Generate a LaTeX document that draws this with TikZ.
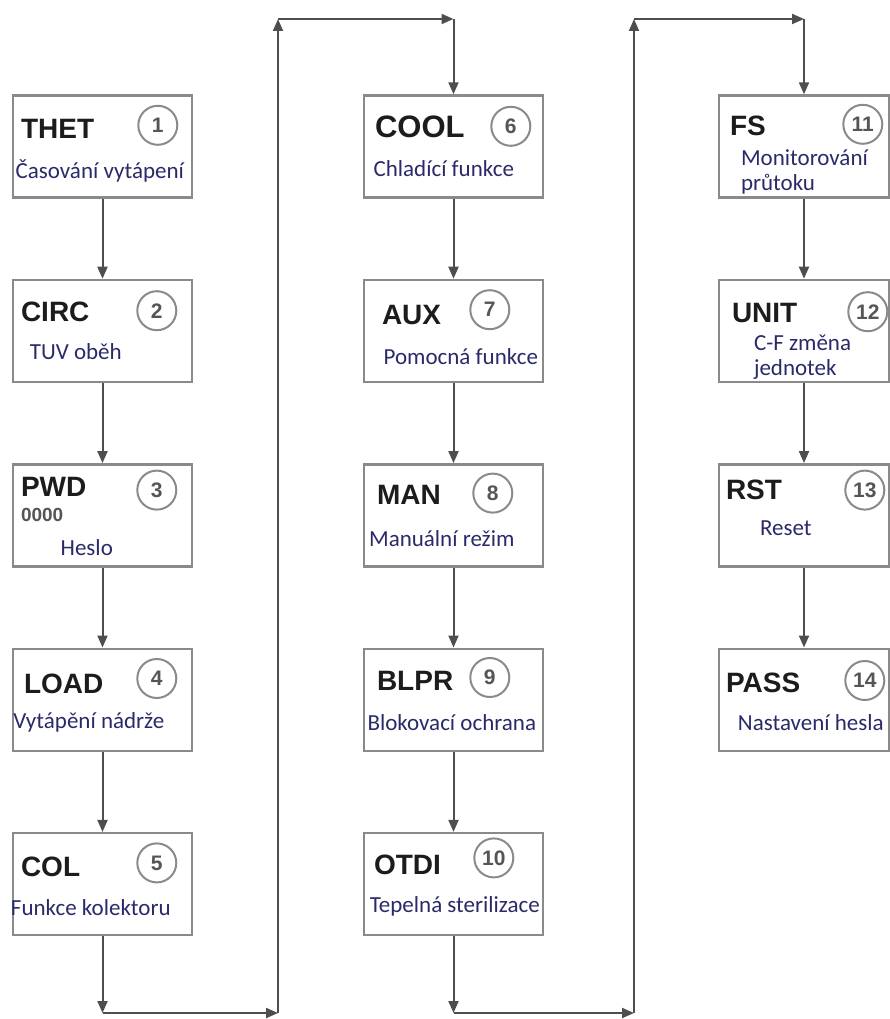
\documentclass[tikz,border=0pt]{standalone}
\usepackage{fontspec}
\setmainfont{Carlito}
\newfontfamily\headfont{Liberation Sans}
\usetikzlibrary{positioning, arrows.meta, calc}
\definecolor{frame}{HTML}{8A8A8A}
\definecolor{linec}{HTML}{4E4E4E}
\definecolor{ink}{HTML}{1C1C1C}
\definecolor{navy}{HTML}{2A2A6A}
\definecolor{dim}{HTML}{555555}
\tikzset{
  menubox/.style={draw=frame, line width=2.4pt, minimum width=179pt,
                  minimum height=102pt, inner sep=0pt},
  code/.style={font=\headfont\bfseries\fontsize{28}{30}\selectfont, text=ink,
               inner sep=0pt, anchor=west},
  zeros/.style={font=\headfont\bfseries\fontsize{19}{20}\selectfont, text=dim,
                inner sep=0pt, anchor=west},
  num/.style={circle, draw=frame, line width=2pt, minimum size=39pt, inner sep=0pt,
              text=dim, font=\headfont\bfseries\fontsize{21}{21}\selectfont},
  desc/.style={font=\fontsize{23}{25}\selectfont, text=navy, inner sep=0pt,
               align=left},
  arr/.style={-{Triangle[length=12pt, width=10pt]}, draw=linec, line width=2pt},
}

\begin{document}
\begin{tikzpicture}[x=1pt, y=-1pt]
  \useasboundingbox (0,0) rectangle (890,1019);
  % first column
  \node[menubox] (thet) at (102.5,146.5) {};
  \node[menubox, below=80pt of thet] (circ) {};
  \node[menubox, below=80pt of circ] (pwd) {};
  \node[menubox, below=80pt of pwd] (load) {};
  \node[menubox, below=80pt of load] (col) {};
  \node[code] (thetT) at ($(thet.north west)+(9,35)$) {THET};
  \node[num] (thetN) at ($(thet.north west)+(146,31)$) {1};
  \node[desc] (thetD) at ($(thet.north west)+(88,77)$) {Časování vytápení};
  \node[code] (circT) at ($(circ.north west)+(9,33)$) {CIRC};
  \node[num] (circN) at ($(circ.north west)+(145,32)$) {2};
  \node[desc] (circD) at ($(circ.north west)+(64,73)$) {TUV oběh};
  \node[code] (pwdT) at ($(pwd.north west)+(9,24)$) {PWD};
  \node[zeros] (pwdZ) at ($(pwd.north west)+(9,52)$) {0000};
  \node[num] (pwdN) at ($(pwd.north west)+(145,27)$) {3};
  \node[desc] (pwdD) at ($(pwd.north west)+(75,84)$) {Heslo};
  \node[code] (loadT) at ($(load.north west)+(12,36)$) {LOAD};
  \node[num] (loadN) at ($(load.north west)+(145,31)$) {4};
  \node[desc] (loadD) at ($(load.north west)+(77,75)$) {Vytápění nádrže};
  \node[code] (colT) at ($(col.north west)+(9,35)$) {COL};
  \node[num] (colN) at ($(col.north west)+(145,31)$) {5};
  \node[desc] (colD) at ($(col.north west)+(79,76)$) {Funkce kolektoru};
  % second column
  \node[menubox] (cool) at (453.5,146.5) {};
  \node[menubox, below=80pt of cool] (aux) {};
  \node[menubox, below=80pt of aux] (man) {};
  \node[menubox, below=80pt of man] (blpr) {};
  \node[menubox, below=80pt of blpr] (otdi) {};
  \node[code, font=\headfont\bfseries\fontsize{31}{32}\selectfont] (coolT)
    at ($(cool.north west)+(12,33)$) {COOL};
  \node[num] (coolN) at ($(cool.north west)+(148,32)$) {6};
  \node[desc] (coolD) at ($(cool.north west)+(81,74)$) {Chladící funkce};
  \node[code] (auxT) at ($(aux.north west)+(19,36)$) {AUX};
  \node[num] (auxN) at ($(aux.north west)+(127,31)$) {7};
  \node[desc] (auxD) at ($(aux.north west)+(98,78)$) {Pomocná funkce};
  \node[code] (manT) at ($(man.north west)+(14,32)$) {MAN};
  \node[num] (manN) at ($(man.north west)+(130,30)$) {8};
  \node[desc] (manD) at ($(man.north west)+(79,75)$) {Manuální režim};
  \node[code] (blprT) at ($(blpr.north west)+(14,33)$) {BLPR};
  \node[num] (blprN) at ($(blpr.north west)+(127,30)$) {9};
  \node[desc] (blprD) at ($(blpr.north west)+(89,75)$) {Blokovací ochrana};
  \node[code] (otdiT) at ($(otdi.north west)+(11,33)$) {OTDI};
  \node[num] (otdiN) at ($(otdi.north west)+(131,26)$) {10};
  \node[desc] (otdiD) at ($(otdi.north west)+(92,74)$) {Tepelná sterilizace};
  % third column
  \node[menubox, minimum width=170pt] (fs) at (804,146.5) {};
  \node[menubox, minimum width=170pt, below=80pt of fs] (unit) {};
  \node[menubox, minimum width=170pt, below=80pt of unit] (rst) {};
  \node[menubox, minimum width=170pt, below=80pt of rst] (pass) {};
  \node[code] (fsT) at ($(fs.north west)+(12,32)$) {FS};
  \node[num] (fsN) at ($(fs.north west)+(145,30)$) {11};
  \node[desc, anchor=west] (fsD) at ($(fs.north west)+(23,77.5)$) {Monitorování\\průtoku};
  \node[code] (unitT) at ($(unit.north west)+(14,34)$) {UNIT};
  \node[num] (unitN) at ($(unit.north west)+(150,33)$) {12};
  \node[desc, anchor=west] (unitD) at ($(unit.north west)+(36,78.5)$) {C-F změna\\jednotek};
  \node[code] (rstT) at ($(rst.north west)+(8,27)$) {RST};
  \node[num] (rstN) at ($(rst.north west)+(147,27)$) {13};
  \node[desc] (rstD) at ($(rst.north west)+(68,65)$) {Reset};
  \node[code] (passT) at ($(pass.north west)+(8,35)$) {PASS};
  \node[num] (passN) at ($(pass.north west)+(147,33)$) {14};
  \node[desc] (passD) at ($(pass.north west)+(93,75)$) {Nastavení hesla};
  % turning points
  \coordinate (downA) at (col.south |- 0,1013);
  \coordinate (rightA) at (278,1013);
  \coordinate (upA) at (278,19);
  \coordinate (overA) at (cool.north |- 0,19);
  \coordinate (downB) at (otdi.south |- 0,1013);
  \coordinate (rightB) at (634,1013);
  \coordinate (upB) at (634,19);
  \coordinate (overB) at (fs.north |- 0,19);
  % arrows
  \draw[arr] (thet) -- (circ);
  \draw[arr] (circ) -- (pwd);
  \draw[arr] (pwd) -- (load);
  \draw[arr] (load) -- (col);
  \draw[arr] (col) -- (downA);
  \draw[arr] (downA) -- (rightA);
  \draw[arr] (rightA) -- (upA);
  \draw[arr] (upA) -- (overA);
  \draw[arr] (overA) -- (cool);
  \draw[arr] (cool) -- (aux);
  \draw[arr] (aux) -- (man);
  \draw[arr] (man) -- (blpr);
  \draw[arr] (blpr) -- (otdi);
  \draw[arr] (otdi) -- (downB);
  \draw[arr] (downB) -- (rightB);
  \draw[arr] (rightB) -- (upB);
  \draw[arr] (upB) -- (overB);
  \draw[arr] (overB) -- (fs);
  \draw[arr] (fs) -- (unit);
  \draw[arr] (unit) -- (rst);
  \draw[arr] (rst) -- (pass);
\end{tikzpicture}
\end{document}
